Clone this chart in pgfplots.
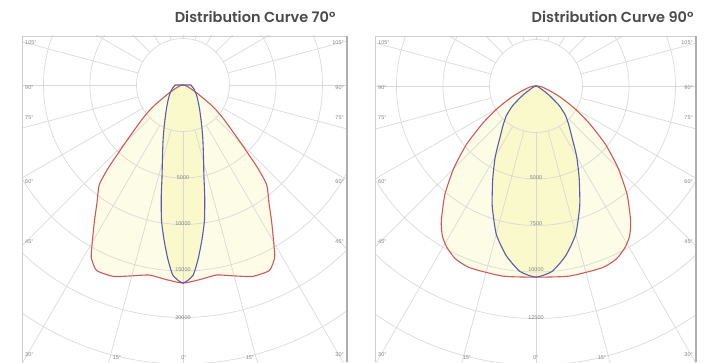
\documentclass[border=0pt]{standalone}
\usepackage{fontspec}
\setmainfont{Poppins}[BoldFont={Poppins SemiBold}]
\newfontfamily\labfont{Liberation Sans}
\usepackage{pgfplots}
\usepackage{pgfplotstable}
\pgfplotsset{compat=1.18}
\definecolor{gridc}{HTML}{D6D6D6}
\definecolor{redc}{HTML}{D2595A}
\definecolor{bluec}{HTML}{5B5BB0}
\definecolor{fillout}{HTML}{FDFCE6}
\definecolor{fillin}{HTML}{FAF9CC}
\definecolor{framec}{HTML}{CDCDCD}
\definecolor{titlec}{HTML}{4A4A4A}
\definecolor{labc}{HTML}{858585}

% gamma (deg from nadir), intensity (cd)
\pgfplotstableread{
g r
-90 150
-80 250
-70 500
-65 900
-60 1750
-55 3500
-53 4450
-50 5750
-45 8750
-42 12000
-40 14000
-36 15750
-33 17500
-30 19500
-28 21000
-25 22000
-20 21900
-15 21250
-10 20750
-5 21000
0 21300
5 21000
10 20750
15 21250
20 21900
25 22000
28 21000
30 19500
33 17500
36 15750
40 14000
42 12000
45 8750
50 5750
53 4450
55 3500
60 1750
65 900
70 500
80 250
90 150
}\redA
\pgfplotstableread{
g r
-90 850
-70 1250
-55 1750
-45 2250
-35 3100
-30 3750
-25 4750
-20 6250
-16 8000
-13 10000
-11 12250
-9 14750
-7 16750
-5 18750
-3 20500
0 21300
3 20500
5 18750
7 16750
9 14750
11 12250
13 10000
16 8000
20 6250
25 4750
30 3750
35 3100
45 2250
55 1750
70 1250
90 850
}\blueA
\pgfplotstableread{
g r
-90 125
-80 375
-70 875
-65 1500
-60 2375
-55 3500
-50 4875
-45 6250
-40 7625
-35 8875
-32 9500
-29 9900
-25 10250
-20 10400
-10 10375
0 10275
10 10375
20 10400
25 10250
29 9900
32 9500
35 8875
40 7625
45 6250
50 4875
55 3500
60 2375
65 1500
70 875
80 375
90 125
}\redB
\pgfplotstableread{
g r
-90 0
-70 125
-60 375
-55 875
-50 1625
-45 2250
-40 2750
-35 3375
-30 4375
-25 5500
-20 6875
-15 8250
-10 9250
-5 10000
0 10275
5 10000
10 9250
15 8250
20 6875
25 5500
30 4375
35 3375
40 2750
45 2250
50 1625
55 875
60 375
70 125
90 0
}\blueB

\pgfplotsset{
  panel/.style={x=46.5pt, y=46.5pt, anchor=south west, axis lines=none,
    enlargelimits=false, clip=true},
  curve/.style={smooth, tension=0.35, data cs=polar},
}
\newcommand\polargrid{%
  \pgfplotsinvokeforeach{1,...,8}{\draw[gridc, line width=0.7pt, opacity=0.9] (axis cs:0,0) circle[radius=##1];}
  \pgfplotsinvokeforeach{0,15,...,345}{\draw[gridc, line width=0.7pt, opacity=0.9]
    (axis cs:{cos(##1)},{sin(##1)}) -- (axis cs:{8*cos(##1)},{8*sin(##1)});}
}

\begin{document}
\begin{tikzpicture}[x=1pt, y=1pt]
\useasboundingbox (0,0) rectangle (718,362);

% left panel, 70 deg
\begin{axis}[panel, at={(22pt,0pt)}, xmin=-3.462, xmax=3.527, ymin=-5.957, ymax=1.054]
\addplot[curve, fill=fillout, draw=none] table[x expr=\thisrow{g}-90, y expr=\thisrow{r}/5000] {\redA} -- cycle;
\addplot[curve, fill=fillin, draw=none] table[x expr=\thisrow{g}-90, y expr=\thisrow{r}/5000] {\blueA} -- cycle;
\polargrid
\addplot[curve, redc, line width=1.1pt] table[x expr=\thisrow{g}-90, y expr=\thisrow{r}/5000] {\redA} -- cycle;
\addplot[curve, bluec, line width=1.1pt] table[x expr=\thisrow{g}-90, y expr=\thisrow{r}/5000] {\blueA} -- cycle;
\end{axis}

% right panel, 90 deg
\begin{axis}[panel, at={(375pt,0pt)}, xmin=-3.462, xmax=3.441, ymin=-5.935, ymax=1.075]
\addplot[curve, fill=fillout, draw=none] table[x expr=\thisrow{g}-90, y expr=\thisrow{r}/2500] {\redB} -- cycle;
\addplot[curve, fill=fillin, draw=none] table[x expr=\thisrow{g}-90, y expr=\thisrow{r}/2500] {\blueB} -- cycle;
\polargrid
\addplot[curve, redc, line width=1.1pt] table[x expr=\thisrow{g}-90, y expr=\thisrow{r}/2500] {\redB} -- cycle;
\addplot[curve, bluec, line width=1.1pt] table[x expr=\thisrow{g}-90, y expr=\thisrow{r}/2500] {\blueB} -- cycle;
\end{axis}

% frames
\draw[framec, line width=0.8pt] (22,0) -- (22,326) -- (347,326);
\draw[framec!85!black, line width=2pt] (347,326) -- (347,0);
\draw[framec, line width=0.8pt] (375,0) -- (375,326) -- (696,326);
\draw[framec!85!black, line width=2pt] (696,326) -- (696,0);

% titles
\node[anchor=east, text=titlec, font=\fontsize{14.5}{16}\selectfont\bfseries] at (339,345) {Distribution Curve 70°};
\node[anchor=east, text=titlec, font=\fontsize{14.5}{16}\selectfont\bfseries] at (697,345) {Distribution Curve 90°};

% angle and intensity labels
\begin{scope}[every node/.style={text=labc, font=\labfont\fontsize{5.5}{6}\selectfont, inner sep=1pt}]
\foreach \lx/\rx in {24/345, 377/694} {
  \node[anchor=west] at (\lx,319) {105°}; \node[anchor=east] at (\rx,319) {105°};
  \node[anchor=west] at (\lx,274) {90°};  \node[anchor=east] at (\rx,274) {90°};
  \node[anchor=west] at (\lx,244) {75°};  \node[anchor=east] at (\rx,244) {75°};
  \node[anchor=west] at (\lx,180) {60°};  \node[anchor=east] at (\rx,180) {60°};
  \node[anchor=west] at (\lx,120) {45°};  \node[anchor=east] at (\rx,120) {45°};
  \node[anchor=west] at (\lx,7) {30°};    \node[anchor=east] at (\rx,7) {30°};
}
\node at (117,4) {15°}; \node at (184,4) {0°}; \node at (250,4) {15°};
\node at (467,4) {15°}; \node at (536,4) {0°}; \node at (602,4) {15°};
\node at (183,184) {5000}; \node at (183,138) {10000};
\node at (183,92) {15000}; \node at (183,44) {20000};
\node at (536,184) {5000}; \node at (536,138) {7500};
\node at (536,92) {10000}; \node at (536,44) {12500};
\end{scope}
\end{tikzpicture}
\end{document}
